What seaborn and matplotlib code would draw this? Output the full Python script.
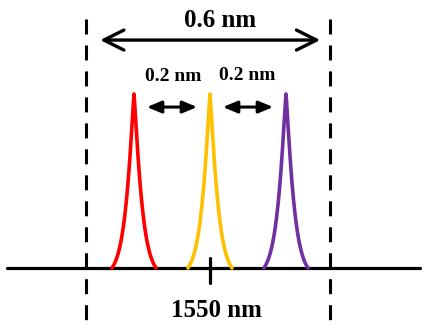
import numpy as np
import pandas as pd
import matplotlib
matplotlib.use("Agg")
import matplotlib.pyplot as plt
import seaborn as sns

# channel peaks (nm) and their colours
peak_centers = [1549.8, 1550.0, 1550.2]
peak_colors = ["#FF0000", "#FFC000", "#7030A0"]
center_wl = 1550.0
spacing = 0.2
span = 0.6

sns.set_theme(style="white")
plt.rcParams['font.family'] = ['Liberation Serif', 'DejaVu Serif']
plt.rcParams['text.color'] = 'black'

fig = plt.figure(figsize=(4.25, 3.28), dpi=100)
ax = fig.add_axes([0, 0, 1, 1])
ax.set_xlim(1550 - 210 / 380, 1550 + 215 / 380)
ax.set_ylim(-60 / 174, 268 / 174)
ax.axis("off")

# baseline
base = pd.DataFrame({"x": [1549.466, 1550.553], "y": [0, 0]})
sns.lineplot(data=base, x="x", y="y", color="black", lw=2.3, ax=ax)

# peaks, narrow cusp shape
a = 0.0225
half = 0.058
for c, col in zip(peak_centers, peak_colors):
    d = np.linspace(-half, half, 401)
    f = np.exp(-(np.abs(d) / a) ** 1.16)
    fend = np.exp(-(half / a) ** 1.16)
    f = (f - fend) / (1 - fend)
    df = pd.DataFrame({"x": c + d, "y": f})
    sns.lineplot(data=df, x="x", y="y", color=col, lw=2.6, ax=ax, sort=False)

# tick at centre
ax.plot([center_wl, center_wl], [-0.086, 0.057], color="black", lw=2.3)

# dashed limits
for xv in [center_wl - 0.326, center_wl + 0.316]:
    ax.plot([xv, xv], [1.431, -0.36], color="black", lw=2.2,
            linestyle=(0, (4.9, 3.6)))

# 0.6 nm arrow
ax.annotate("", xy=(center_wl - 0.289, 1.31), xytext=(center_wl + 0.290, 1.31),
            arrowprops=dict(arrowstyle="<->,head_length=0.72,head_width=0.36",
                            lw=2.4, color="black", mutation_scale=20,
                            shrinkA=0, shrinkB=0))
ax.text(center_wl + 0.026, 1.42, f"{span} nm", ha="center", va="center",
        fontsize=18, fontweight="bold")

# 0.2 nm arrows
for x0, x1, tx, ty in [(peak_centers[0], peak_centers[1], 1549.903, 1.098),
                       (peak_centers[1], peak_centers[2], 1550.097, 1.109)]:
    ax.annotate("", xy=(x0 + 0.034, 0.925), xytext=(x1 - 0.034, 0.925),
                arrowprops=dict(arrowstyle="<|-|>,head_length=0.86,head_width=0.36",
                                lw=2.2, color="black", mutation_scale=10,
                                shrinkA=0, shrinkB=0))
    ax.text(tx, ty, f"{spacing} nm", ha="center", va="center",
            fontsize=14, fontweight="bold")

ax.text(center_wl + 0.016, -0.247, f"{int(center_wl)} nm", ha="center", va="center",
        fontsize=18, fontweight="bold")

fig.savefig("out.png", dpi=100, facecolor="white")
